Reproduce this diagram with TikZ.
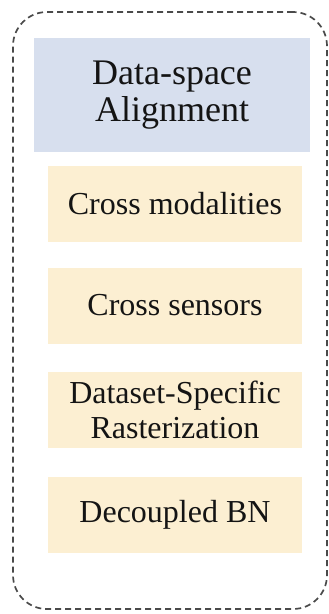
\documentclass[tikz,border=0pt]{standalone}
\usepackage{fontspec}
\setmainfont{Liberation Serif}
\definecolor{titlefill}{HTML}{D7DFEE}
\definecolor{itemfill}{HTML}{FCEFD2}
\definecolor{framegray}{HTML}{4A4A4A}
\definecolor{inkdark}{HTML}{141414}
\tikzset{
  outerframe/.style={draw=framegray, line width=1.7pt, dash pattern=on 6pt off 4pt,
    rounded corners=34pt, minimum width=314pt, minimum height=597pt, inner sep=0pt},
  titlebox/.style={fill=titlefill, minimum width=276pt, minimum height=114pt,
    align=center, text=inkdark, font=\fontsize{36}{37}\selectfont, inner sep=0pt},
  itembox/.style={fill=itemfill, minimum width=254pt, minimum height=76pt,
    align=center, text=inkdark, font=\fontsize{32}{35}\selectfont, inner sep=0pt}
}
\begin{document}
\begin{tikzpicture}[x=1pt, y=-1pt]
  \useasboundingbox (0,0) rectangle (329,614);
  % dashed container
  \node[outerframe] (frame) at (170,310.5) {};
  % heading
  \node[titlebox] (title) at (172,95) {Data-space\\Alignment};
  % items
  \node[itembox] (cm) at (175,204) {Cross modalities};
  \node[itembox] (cs) at (175,305.5) {Cross sensors};
  \node[itembox] (ds) at (175,410) {Dataset-Specific\\Rasterization};
  \node[itembox] (bn) at (175,515) {Decoupled BN};
\end{tikzpicture}
\end{document}
